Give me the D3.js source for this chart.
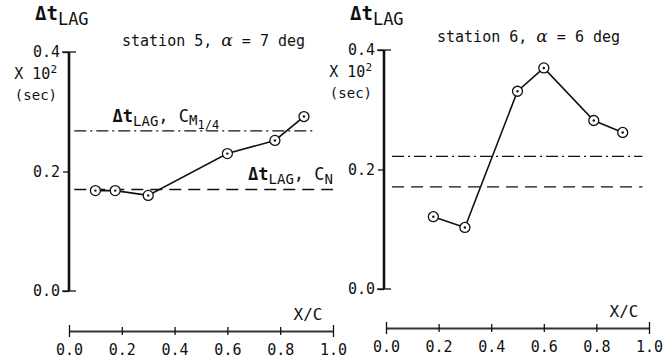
<!DOCTYPE html>
<html>
<head>
<meta charset="utf-8">
<script src="https://cdn.jsdelivr.net/npm/d3@7"></script>
<style>
  body { margin: 0; background: #fff; }
  svg { display: block; }
  text { font-family: "DejaVu Sans Mono", monospace; fill: #111; }
</style>
</head>
<body>
<div id="chart"></div>
<script>
// values (x/c, delta t lag x 10^2 sec)
var st5X = [0.1, 0.175, 0.3, 0.6, 0.78, 0.89];
var st5Y = [0.168, 0.168, 0.160, 0.230, 0.252, 0.292];
var st6X = [0.18, 0.3, 0.5, 0.6, 0.79, 0.9];
var st6Y = [0.121, 0.103, 0.331, 0.370, 0.282, 0.262];

// reference levels: [C_M1/4, C_N]
var st5Ref = [0.268, 0.170];
var st6Ref = [0.222, 0.171];

var xTicks = [0, 0.2, 0.4, 0.6, 0.8, 1.0];
var yTicks = [0, 0.2, 0.4];

var width = 663, height = 359;

var svg = d3.select("#chart").append("svg")
    .attr("width", width)
    .attr("height", height);

var panels = [
  { xs: st5X, ys: st5Y, ref: st5Ref, station: "5", alpha: "7",
    yx: 69, yr: [291, 52], xr: [69, 333], xy: 331,
    cmEnd: 0.93, cnEnd: 1.0, refStart: 0.02, labels: true },
  { xs: st6X, ys: st6Y, ref: st6Ref, station: "6", alpha: "6",
    yx: 384, yr: [289, 50], xr: [386, 649], xy: 328,
    cmEnd: 0.975, cnEnd: 0.975, refStart: 0.023, labels: false }
];

panels.forEach(function (p) {
  var g = svg.append("g");
  var x = d3.scaleLinear().domain([0, 1]).range(p.xr);
  var y = d3.scaleLinear().domain([0, 0.4]).range(p.yr);

  // y axis
  var yAxis = d3.axisLeft(y).tickValues(yTicks).tickSize(6).tickPadding(3)
      .tickFormat(d3.format(".1f"));
  var ya = g.append("g")
      .attr("transform", "translate(" + p.yx + ",0)")
      .call(yAxis);
  ya.select(".domain").remove();
  ya.selectAll(".tick line").attr("stroke", "#111").attr("stroke-width", 1.3);
  ya.selectAll("text").style("font-size", "15px").attr("fill", "#111")
      .style("font-family", "'DejaVu Sans Mono', monospace");
  g.append("line")
      .attr("x1", p.yx).attr("x2", p.yx)
      .attr("y1", y(0.4)).attr("y2", y(0))
      .attr("stroke", "#111").attr("stroke-width", 2.6);
  // caps at the ends
  [0, 0.4].forEach(function (v) {
    g.append("line")
        .attr("x1", p.yx - 7).attr("x2", p.yx + 7)
        .attr("y1", y(v)).attr("y2", y(v))
        .attr("stroke", "#111").attr("stroke-width", 1.3);
  });

  // unit labels under 0.4
  var ux = p.yx - 12;
  var t1 = g.append("text").attr("x", ux).attr("y", y(0.4) + 27)
      .attr("text-anchor", "end").style("font-size", "15px");
  t1.append("tspan").text("X 10");
  t1.append("tspan").attr("dy", -6).style("font-size", "11px").text("2");
  g.append("text").attr("x", ux).attr("y", y(0.4) + 48)
      .attr("text-anchor", "end").style("font-size", "14px").text("(sec)");

  // Δt_LAG heading
  var h = g.append("text").attr("x", p.yx - 34).attr("y", 20)
      .style("font-size", "19px").style("font-weight", "bold");
  h.append("tspan").text("\u0394t");
  h.append("tspan").attr("dy", 5).style("font-size", "17px").style("font-weight", "normal").text("LAG");

  // title
  var tt = g.append("text").attr("x", p.yx + 53).attr("y", p.labels ? 46 : 42)
      .style("font-size", "15px");
  tt.append("tspan").text("station " + p.station + ", ");
  tt.append("tspan").style("font-family", "'DejaVu Serif', serif").style("font-style", "italic").style("font-size", "17px").text("\u03b1");
  tt.append("tspan").text(" = " + p.alpha + " deg");

  // x axis
  var xAxis = d3.axisBottom(x).tickValues(xTicks).tickSize(0).tickPadding(13)
      .tickFormat(d3.format(".1f"));
  var xa = g.append("g")
      .attr("transform", "translate(0," + p.xy + ")")
      .call(xAxis);
  xa.select(".domain").attr("stroke", "#333").attr("stroke-width", 2.2);
  xa.selectAll(".tick line")
      .attr("y1", function (d) { return (d === 0 || d === 1) ? -6 : -4; })
      .attr("y2", function (d) { return (d === 0 || d === 1) ? 6 : 4; })
      .attr("stroke", "#111").attr("stroke-width", 1.3);
  xa.selectAll("text").style("font-size", "15px").attr("fill", "#111")
      .style("font-family", "'DejaVu Sans Mono', monospace");
  g.append("text").attr("x", x(0.96)).attr("y", p.xy - 11)
      .attr("text-anchor", "end").style("font-size", "16px").text("X/C");

  // reference lines
  g.append("line")
      .attr("x1", x(p.refStart)).attr("x2", x(p.cmEnd))
      .attr("y1", y(p.ref[0])).attr("y2", y(p.ref[0]))
      .attr("stroke", "#111").attr("stroke-width", 1.4)
      .attr("stroke-dasharray", "12,4,2,4");
  g.append("line")
      .attr("x1", x(p.refStart)).attr("x2", x(p.cnEnd))
      .attr("y1", y(p.ref[1])).attr("y2", y(p.ref[1]))
      .attr("stroke", "#111").attr("stroke-width", 1.4)
      .attr("stroke-dasharray", "12,7");

  if (p.labels) {
    var l1 = g.append("text").attr("x", x(0.165)).attr("y", y(p.ref[0]) - 9)
        .style("font-size", "17px");
    l1.append("tspan").style("font-weight", "bold").text("\u0394t");
    l1.append("tspan").attr("dy", 4).style("font-size", "14px").text("LAG");
    l1.append("tspan").attr("dy", -4).text(", C");
    l1.append("tspan").attr("dy", 3).style("font-size", "14px").text("M");
    l1.append("tspan").attr("dy", 4).style("font-size", "12px").text("1/4");
    var l2 = g.append("text").attr("x", x(1.0)).attr("y", y(p.ref[1]) - 9)
        .attr("text-anchor", "end").style("font-size", "17px");
    l2.append("tspan").style("font-weight", "bold").text("\u0394t");
    l2.append("tspan").attr("dy", 4).style("font-size", "14px").text("LAG");
    l2.append("tspan").attr("dy", -4).text(", C");
    l2.append("tspan").attr("dy", 4).style("font-size", "14px").text("N");
  }

  // data line + markers
  var pts = p.xs.map(function (v, i) { return [v, p.ys[i]]; });
  var line = d3.line()
      .x(function (d) { return x(d[0]); })
      .y(function (d) { return y(d[1]); });
  g.append("path").datum(pts)
      .attr("d", line)
      .attr("fill", "none").attr("stroke", "#111").attr("stroke-width", 1.6);
  g.selectAll(".mk").data(pts).enter().append("circle")
      .attr("cx", function (d) { return x(d[0]); })
      .attr("cy", function (d) { return y(d[1]); })
      .attr("r", 5)
      .attr("fill", "#fff").attr("stroke", "#111").attr("stroke-width", 1.3);
  g.selectAll(".dot").data(pts).enter().append("circle")
      .attr("cx", function (d) { return x(d[0]); })
      .attr("cy", function (d) { return y(d[1]); })
      .attr("r", 1.2)
      .attr("fill", "#111");
});
</script>
</body>
</html>
